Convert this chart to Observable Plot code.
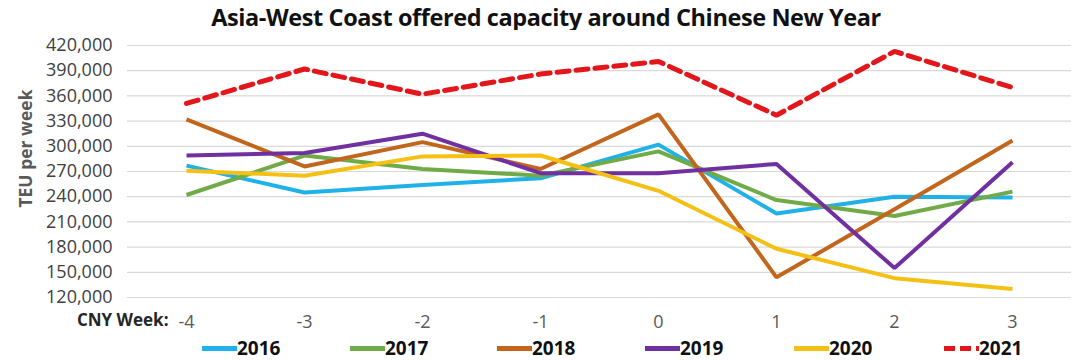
<!DOCTYPE html>
<html>
<head>
<meta charset="utf-8">
<script src="https://cdn.jsdelivr.net/npm/d3@7"></script>
<script src="https://cdn.jsdelivr.net/npm/@observablehq/plot@0.6"></script>
<style>
  html, body { margin: 0; padding: 0; background: #fff; }
  #wrap { position: relative; width: 1080px; height: 361px; font-family: "Open Sans", sans-serif; overflow: hidden; }
  #title { position: absolute; top: 0; left: 0; width: 1080px; padding-left: 12px; box-sizing: border-box; height: 34px; line-height: 34px; text-align: center; font-weight: bold; font-size: 23.5px; color: #111; letter-spacing: -0.4px; }
  #chart { position: absolute; top: 30px; left: 0; }
  #legend { position: absolute; top: 335px; left: 0; width: 1080px; height: 26px; }
  .item { position: absolute; top: 0; height: 26px; display: flex; align-items: center; font-weight: bold; font-size: 19px; color: #111; }
  .sw { width: 35px; height: 5px; margin-right: 0px; }
</style>
</head>
<body>
<div id="wrap">
  <div id="title">Asia-West Coast offered capacity around Chinese New Year</div>
  <div id="chart"></div>
  <div id="legend"></div>
</div>
<script>
const weeks = [-4, -3, -2, -1, 0, 1, 2, 3];
const years = ["2016", "2017", "2018", "2019", "2020", "2021"];
const v2016 = [277000, 245000, 254000, 262000, 302000, 220000, 240000, 239000];
const v2017 = [242000, 289000, 273000, 265000, 294000, 236000, 217000, 246000];
const v2018 = [332000, 276000, 305000, 273000, 338000, 144000, 225000, 307000];
const v2019 = [289000, 292000, 315000, 268000, 268000, 279000, 155000, 281000];
const v2020 = [271000, 265000, 288000, 289000, 247000, 178000, 143000, 130000];
const v2021 = [351000, 392000, 362000, 386000, 401000, 337000, 413000, 370000];
const yTicks = [120000, 150000, 180000, 210000, 240000, 270000, 300000, 330000, 360000, 390000, 420000];
const colors = ["#20b1e8", "#71ab48", "#c2651d", "#7030a0", "#f4c014", "#e3161b"];

const seriesValues = [v2016, v2017, v2018, v2019, v2020, v2021];
const rows = [];
years.forEach((yr, i) => weeks.forEach((w, j) => rows.push({year: yr, week: w, value: seriesValues[i][j]})));

const solid = rows.filter(d => d.year !== "2021");
const dashed = rows.filter(d => d.year === "2021");

const chart = Plot.plot({
  width: 1080,
  height: 305,
  marginLeft: 127,
  marginRight: 9,
  marginTop: 15,
  marginBottom: 38,
  style: {fontFamily: "Open Sans, sans-serif", fontSize: "18px", color: "#404040", background: "#fff"},
  x: {type: "point", domain: weeks, padding: 0.5},
  y: {domain: [120000, 420000]},
  color: {domain: years, range: colors},
  marks: [
    Plot.gridY(yTicks, {stroke: "#d9d9d9", strokeOpacity: 1, strokeWidth: 1.2}),
    Plot.axisY(yTicks, {tickSize: 0, tickPadding: 15, tickFormat: d3.format(","), label: null, fill: "#404040"}),
    Plot.axisX(weeks, {tickSize: 0, tickPadding: 18, label: null, fill: "#595959", tickFormat: d => String(d)}),
    Plot.line(solid, {x: "week", y: "value", z: "year", stroke: "year", strokeWidth: 4, strokeLinejoin: "miter", strokeLinecap: "butt"}),
    Plot.line(dashed, {x: "week", y: "value", stroke: "year", strokeWidth: 5, strokeDasharray: "12,7", strokeLinejoin: "miter"}),
    Plot.text(["TEU per week"], {frameAnchor: "top-left", dx: -101, dy: 103, rotate: -90, textAnchor: "middle", lineAnchor: "middle", fontWeight: "bold", fill: "#595959", fontSize: 17.5}),
    Plot.text(["CNY Week:"], {frameAnchor: "bottom-left", dx: 41, dy: 23, textAnchor: "end", lineAnchor: "middle", fontWeight: "bold", fill: "#262626", fontSize: 17})
  ]
});
document.getElementById("chart").appendChild(chart);

const legendLeft = [202, 350, 497, 645, 794, 944];
const legend = document.getElementById("legend");
years.forEach((yr, i) => {
  const item = document.createElement("div");
  item.className = "item";
  item.style.left = legendLeft[i] + "px";
  const sw = document.createElement("div");
  sw.className = "sw";
  if (yr === "2021") {
    sw.style.background = `repeating-linear-gradient(to right, ${colors[i]} 0 11px, transparent 11px 16px)`;
  } else {
    sw.style.background = colors[i];
  }
  const label = document.createElement("span");
  label.textContent = yr;
  item.appendChild(sw);
  item.appendChild(label);
  legend.appendChild(item);
});
</script>
</body>
</html>
